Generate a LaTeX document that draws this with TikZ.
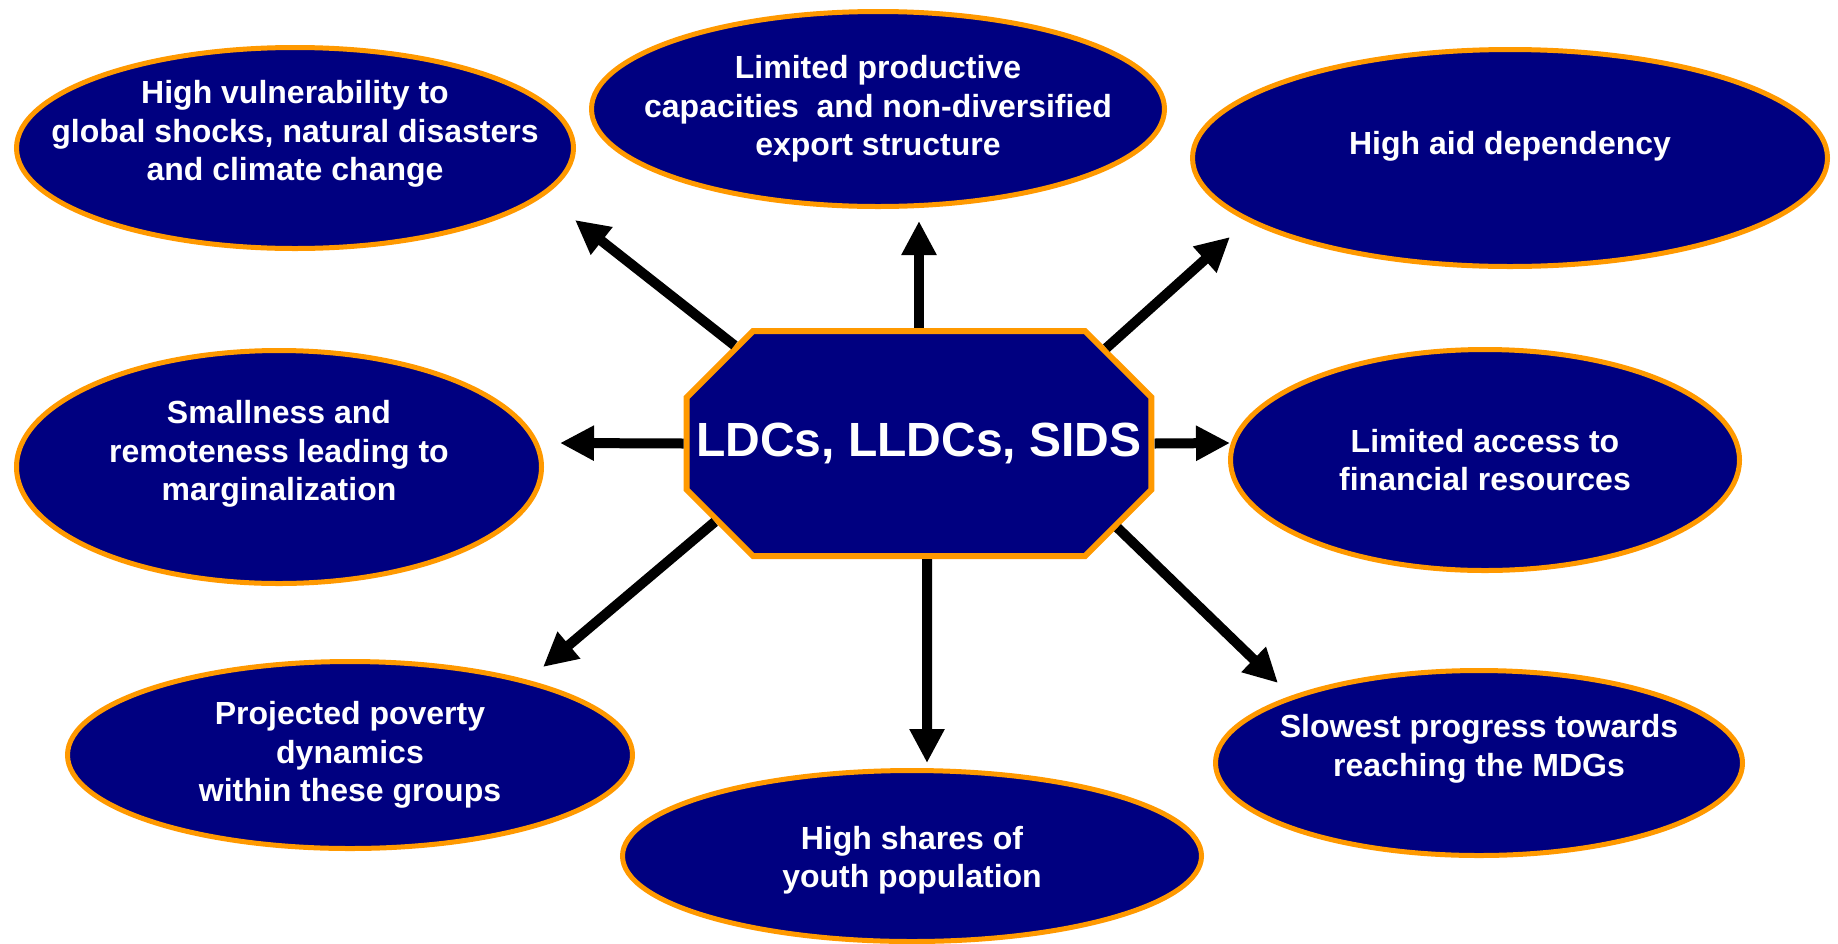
\documentclass[tikz,border=0pt]{standalone}
\usepackage{fontspec}
\setmainfont{Liberation Sans}
\usetikzlibrary{shapes.geometric,shapes.misc,arrows.meta}
\definecolor{navyblob}{RGB}{0,0,128}
\definecolor{rimorange}{RGB}{255,153,0}

\begin{document}
\begin{tikzpicture}[x=1pt,y=-1pt,
	blob/.style={ellipse,draw=rimorange,line width=5pt,fill=navyblob,inner sep=0pt},
	blobtext/.style={text=white,font=\fontsize{32}{38.5}\selectfont\bfseries,align=center},
	hubbox/.style={chamfered rectangle,draw=rimorange,line width=6pt,fill=navyblob,inner sep=0pt,
		minimum width=441pt,minimum height=225pt,chamfered rectangle xsep=46pt,chamfered rectangle ysep=46pt,
		text=white,font=\fontsize{48}{56}\selectfont\bfseries},
	push/.style={line width=10pt,-{Triangle[length=34pt,width=33pt]}}]
		\useasboundingbox (0,0) rectangle (1838,943);
		\node[blob,minimum width=557pt,minimum height=201pt] (vuln) at (295,148) {};
		\node[blob,minimum width=573pt,minimum height=195pt] (prod) at (878,109) {};
		\node[blob,minimum width=635pt,minimum height=217pt] (aid) at (1510,158) {};
		\node[blob,minimum width=525pt,minimum height=233pt] (small) at (279,467) {};
		\node[blob,minimum width=509pt,minimum height=221pt] (finance) at (1485,460) {};
		\node[blob,minimum width=565pt,minimum height=187pt] (poverty) at (350,755) {};
		\node[blob,minimum width=579pt,minimum height=171pt] (youth) at (912,856) {};
		\node[blob,minimum width=527pt,minimum height=185pt] (mdg) at (1479,763) {};
		\node[blobtext] (vulntext) at ([yshift=14pt]vuln.center) {High vulnerability to\\global shocks, natural disasters\\and climate change};
		\node[blobtext] (prodtext) at (prod.center) {Limited productive\\capacities\ \ and non-diversified\\export structure};
		\node[blobtext] (aidtext) at ([yshift=12pt]aid.center) {High aid dependency};
		\node[blobtext] (smalltext) at ([yshift=13pt]small.center) {Smallness and\\remoteness leading to\\marginalization};
		\node[blobtext] (financetext) at (finance.center) {Limited access to\\financial resources};
		\node[blobtext] (povertytext) at (poverty.center) {Projected poverty\\dynamics\\within these groups};
		\node[blobtext] (youthtext) at ([yshift=-4pt]youth.center) {High shares of\\youth population};
		\node[blobtext] (mdgtext) at ([yshift=14pt]mdg.center) {Slowest progress towards\\reaching the MDGs};
		\node[hubbox] (hub) at (919,443.5) {\makebox[424pt]{LDCs, LLDCs, SIDS}};
		\coordinate (t1) at (575,220);
		\coordinate (t2) at (919,221);
		\coordinate (t3) at (1230,237);
		\coordinate (t4) at (560,443);
		\coordinate (t5) at (1230,443);
		\coordinate (t6) at (543,667);
		\coordinate (t7) at (927,763);
		\coordinate (t8) at (1278,683);
		\foreach \ang/\tip in {152.6/t1,90/t2,27.2/t3,180/t4,0/t5,201.6/t6,274.1/t7,337.9/t8}
			\draw[push] (hub.\ang) -- (\tip);
	\end{tikzpicture}
\end{document}
